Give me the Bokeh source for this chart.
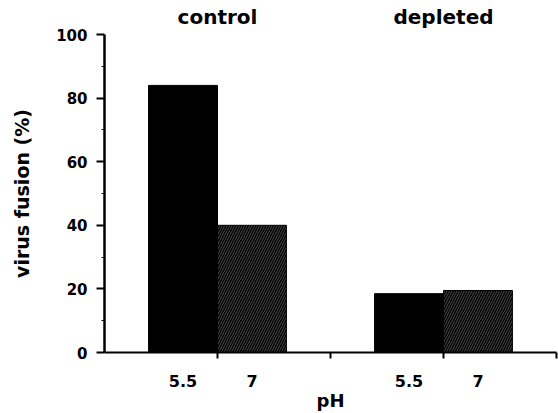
from bokeh.plotting import figure
from bokeh.models import Range1d, FixedTicker, LinearAxis
from bokeh.embed import file_html
from bokeh.resources import INLINE

# Data
groups = ["control", "depleted"]
ph_labels = ["5.5", "7"]
fusion_ph55 = [84, 18.5]   # black bars
fusion_ph7 = [40, 19.5]    # hatched bars
y_ticks = [0, 20, 40, 60, 80, 100]
y_minor = [10, 30, 50, 70, 90]

FONT = "DejaVu Sans"
bar_w = 0.61
centers = [2 * i + 1 for i in range(len(groups))]
x55 = [c - bar_w / 2 for c in centers]
x7 = [c + bar_w / 2 for c in centers]

p = figure(width=558, height=413, output_backend="svg", toolbar_location=None,
           x_range=Range1d(0, 4), y_range=Range1d(0, 100),
           min_border_left=104, min_border_right=2, min_border_top=34, min_border_bottom=60)
p.outline_line_color = None
p.grid.visible = False
p.background_fill_color = "white"
p.border_fill_color = "white"

p.vbar(x=x55, top=fusion_ph55, width=bar_w, bottom=0, fill_color="black", line_color="black")
p.vbar(x=x7, top=fusion_ph7, width=bar_w, bottom=0, fill_color="black", line_color="black",
       hatch_pattern="/", hatch_color="white", hatch_alpha=0.5, hatch_scale=5, hatch_weight=0.6)

# Y axis
ya = p.yaxis[0]
ya.ticker = FixedTicker(ticks=y_ticks, minor_ticks=y_minor)
ya.axis_line_width = 2.5
ya.major_tick_line_width = 2
ya.major_tick_out = 8
ya.major_tick_in = 0
ya.minor_tick_out = 3
ya.minor_tick_in = 0
ya.minor_tick_line_width = 1
ya.major_label_standoff = 9
ya.major_label_text_font = FONT
ya.major_label_text_font_style = "bold"
ya.major_label_text_font_size = "15px"
ya.major_label_text_color = "black"
ya.axis_label = "virus fusion (%)"
ya.axis_label_text_font = FONT
ya.axis_label_text_font_style = "bold"
ya.axis_label_text_font_size = "19px"
ya.axis_label_text_color = "black"
ya.axis_label_standoff = 20

# X axis: tick marks at boundaries (minor), labels at bar centers (major)
xa = p.xaxis[0]
xa.ticker = FixedTicker(ticks=x55 + x7, minor_ticks=[1, 2, 3, 4])
xa.major_label_overrides = {**{x: ph_labels[0] for x in x55}, **{x: ph_labels[1] for x in x7}}
xa.axis_line_width = 2
xa.major_tick_out = 0
xa.major_tick_in = 0
xa.major_tick_line_color = None
xa.minor_tick_out = 6
xa.minor_tick_in = 0
xa.minor_tick_line_width = 2
xa.major_label_standoff = 16
xa.major_label_text_font = FONT
xa.major_label_text_font_style = "bold"
xa.major_label_text_font_size = "16px"
xa.major_label_text_color = "black"
xa.axis_label = "pH"
xa.axis_label_text_font = FONT
xa.axis_label_text_font_style = "bold"
xa.axis_label_text_font_size = "18px"
xa.axis_label_text_color = "black"
xa.axis_label_standoff = 0

# Group titles above
top = LinearAxis(ticker=FixedTicker(ticks=centers, minor_ticks=[]),
                 major_label_overrides={c: g for c, g in zip(centers, groups)})
top.axis_line_color = None
top.major_tick_line_color = None
top.minor_tick_line_color = None
top.major_tick_out = 0
top.major_tick_in = 0
top.major_label_standoff = 6
top.major_label_text_font = FONT
top.major_label_text_font_style = "bold"
top.major_label_text_font_size = "20px"
top.major_label_text_color = "black"
p.add_layout(top, "above")

open("out.html", "w").write(file_html(p, INLINE))
